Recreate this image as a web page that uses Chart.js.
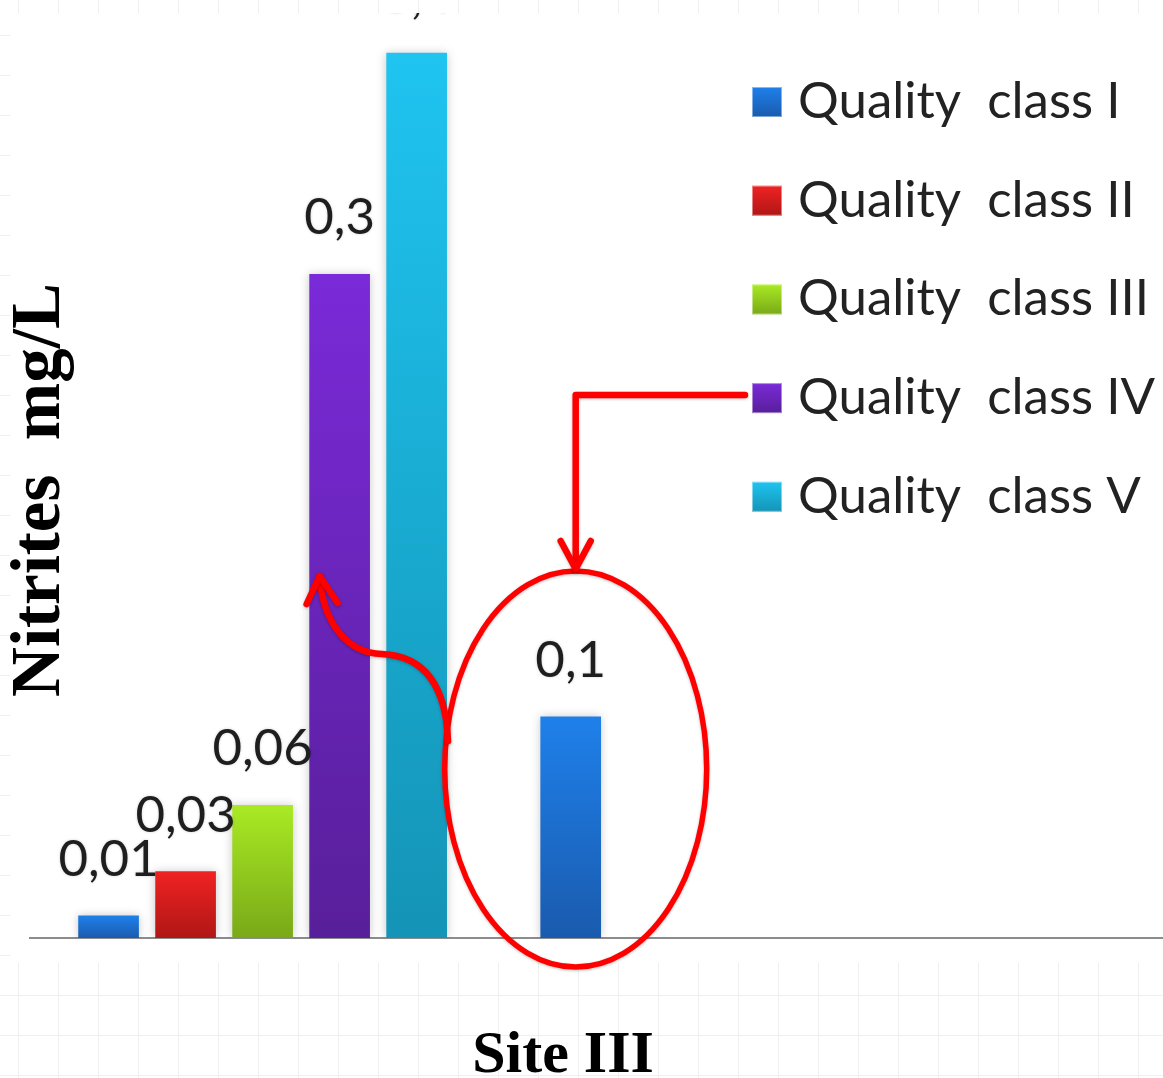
<!DOCTYPE html>
<html>
<head>
<meta charset="utf-8">
<script src="https://cdn.jsdelivr.net/npm/chart.js@4.4.1/dist/chart.umd.min.js"></script>
<style>
  html, body { margin: 0; padding: 0; background: #fff; }
  #wrap { position: relative; width: 1163px; height: 1078px; }
  canvas { display: block; }
</style>
</head>
<body>
<div id="wrap"><canvas id="chart" width="1163" height="1078"></canvas></div>
<script>
// ---- data ----
const classLabels = ['Quality  class I', 'Quality  class II', 'Quality  class III', 'Quality  class IV', 'Quality  class V'];
const classValues = [0.01, 0.03, 0.06, 0.3, 0.4];
const siteLabels = ['Site III'];
const siteValues = [0.1];
const yTitle = 'Nitrites  mg/L';

// ---- styles ----
const classColors = [
  ['#1f80ea', '#1a5bae'],
  ['#f02222', '#b01616'],
  ['#a9ea24', '#79a918'],
  ['#7a2ad8', '#581f9a'],
  ['#1fc4f0', '#1494b6']
];
const siteColors = ['#1f80ea', '#1a5bae'];
const labelFont = '51px Lato';
const legendFont = '51px Lato';
const sheet = { left: 10, top: 13, bottom: 963 };

const fmt = v => String(v).replace('.', ',');

function barFill(pair) {
  return (ctx) => {
    const chart = ctx.chart;
    if (!chart.chartArea || ctx.type !== 'data') return pair[0];
    const ys = chart.scales.y;
    const top = ys.getPixelForValue(ctx.raw.y);
    const bot = ys.getPixelForValue(0);
    const g = chart.ctx.createLinearGradient(0, top, 0, bot);
    g.addColorStop(0, pair[0]);
    g.addColorStop(1, pair[1]);
    return g;
  };
}

// one slot per bar: classes first, a gap, then the site
const siteSlot = classLabels.length + 2;
const datasets = classLabels.map((lab, i) => ({
  label: lab,
  data: [{ x: i + 1, y: classValues[i] }],
  backgroundColor: barFill(classColors[i]),
  grouped: false,
  barThickness: 60
}));
siteLabels.forEach((lab, i) => datasets.push({
  label: lab,
  data: [{ x: siteSlot + i, y: siteValues[i] }],
  backgroundColor: barFill(siteColors),
  grouped: false,
  barThickness: 60
}));

// faint paper grid behind a white plotting sheet
const paperPlugin = {
  id: 'paper',
  beforeDraw(chart) {
    const c = chart.ctx, W = chart.width, H = chart.height;
    c.save();
    c.fillStyle = '#fff';
    c.fillRect(0, 0, W, H);
    c.strokeStyle = '#efefef';
    c.lineWidth = 1;
    c.beginPath();
    for (let x = 18; x < W; x += 40) { c.moveTo(x + 0.5, 0); c.lineTo(x + 0.5, H); }
    for (let y = 35; y < H; y += 40) { c.moveTo(0, y + 0.5); c.lineTo(W, y + 0.5); }
    c.stroke();
    c.fillStyle = '#fff';
    c.fillRect(sheet.left, sheet.top, W - sheet.left, sheet.bottom - sheet.top);
    c.restore();
  }
};

// soft shadow around bars
const shadowPlugin = {
  id: 'barShadow',
  beforeDatasetsDraw(chart) {
    const c = chart.ctx;
    c.save();
    c.shadowColor = 'rgba(0,0,0,0.22)';
    c.shadowBlur = 9;
  },
  afterDatasetsDraw(chart) {
    chart.ctx.restore();
  }
};

// value labels above bars, kept inside the white sheet
const valuePlugin = {
  id: 'values',
  afterDatasetsDraw(chart) {
    const c = chart.ctx;
    c.save();
    c.beginPath();
    c.rect(sheet.left, sheet.top, chart.width - sheet.left, sheet.bottom - sheet.top);
    c.clip();
    c.font = labelFont;
    c.fillStyle = '#1e1e1e';
    c.textAlign = 'center';
    c.textBaseline = 'alphabetic';
    c.shadowColor = 'rgba(0,0,0,0.18)';
    c.shadowBlur = 3;
    chart.data.datasets.forEach((ds, di) => {
      const meta = chart.getDatasetMeta(di);
      meta.data.forEach((el, j) => {
        c.fillText(fmt(ds.data[j].y), el.x, el.y - 40);
      });
    });
    c.restore();
  }
};

// legend, axis titles and red annotations
const overlayPlugin = {
  id: 'overlay',
  afterDraw(chart) {
    const c = chart.ctx;
    const xs = chart.scales.x, ys = chart.scales.y;
    c.save();

    // legend
    const lx = 752, ly0 = 102, lstep = 98.7, box = 30;
    classLabels.forEach((lab, i) => {
      const cy = ly0 + i * lstep;
      const g = c.createLinearGradient(0, cy - box / 2, 0, cy + box / 2);
      g.addColorStop(0, classColors[i][0]);
      g.addColorStop(1, classColors[i][1]);
      c.fillStyle = g;
      c.fillRect(lx, cy - box / 2, box, box);
      c.strokeStyle = 'rgba(255,255,255,0.45)';
      c.lineWidth = 1;
      c.strokeRect(lx + 0.5, cy - box / 2 + 0.5, box - 1, box - 1);
      c.font = legendFont;
      c.fillStyle = '#222';
      c.textAlign = 'left';
      c.textBaseline = 'alphabetic';
      c.fillText(lab, 798, cy + 16);
    });

    // axis titles
    c.fillStyle = '#000';
    c.font = 'bold 60px "Liberation Serif"';
    c.textAlign = 'center';
    c.fillText(siteLabels[0], 563, 1072);
    c.save();
    c.translate(59, 490);
    c.rotate(-Math.PI / 2);
    c.font = 'bold 69px "Liberation Serif"';
    c.fillText(yTitle, 0, 0);
    c.restore();

    // red annotations, anchored to the site bar and the class IV bar
    const sx = xs.getPixelForValue(siteSlot);
    const bx = xs.getPixelForValue(4);
    const y0 = ys.getPixelForValue(0);
    const ecx = sx + 5, ecy = y0 - 169, erx = 131, ery = 198;
    c.strokeStyle = '#ff0000';
    c.lineCap = 'round';
    c.lineJoin = 'round';
    c.shadowColor = 'rgba(0,0,0,0.25)';
    c.shadowBlur = 3;
    c.shadowOffsetY = 1;

    c.lineWidth = 5.5;
    c.beginPath();
    c.ellipse(ecx, ecy, erx, ery, 0, 0, Math.PI * 2);
    c.stroke();

    // elbow arrow from legend item IV down to the ellipse
    const legY = ly0 + 3 * lstep - 3;
    const tipY = ecy - ery - 2;
    c.lineWidth = 6.5;
    c.beginPath();
    c.moveTo(lx - 7, legY);
    c.lineTo(ecx, legY);
    c.lineTo(ecx, tipY);
    c.stroke();
    c.beginPath();
    c.moveTo(ecx - 15, tipY - 28);
    c.lineTo(ecx, tipY);
    c.lineTo(ecx + 15, tipY - 28);
    c.stroke();

    // curved arrow from the ellipse to the class IV bar
    const sy = ecy - 28;
    const sxE = ecx - erx * Math.sqrt(1 - Math.pow((sy - ecy) / ery, 2)) + 2;
    const tx = bx - 20, ty = y0 - 362;
    c.beginPath();
    c.moveTo(sxE, sy);
    c.bezierCurveTo(sxE - 2, sy - 55, sxE - 23, sy - 85, sxE - 66, sy - 87);
    c.bezierCurveTo(tx + 26, sy - 88, tx + 3, sy - 120, tx, ty);
    c.stroke();
    c.beginPath();
    c.moveTo(tx - 13, ty + 28);
    c.lineTo(tx, ty);
    c.lineTo(tx + 18, ty + 27);
    c.stroke();

    c.restore();
  }
};

new Chart(document.getElementById('chart'), {
  type: 'bar',
  data: { datasets },
  options: {
    responsive: false,
    animation: false,
    devicePixelRatio: 1,
    layout: { padding: { left: 30, right: 0, top: 0, bottom: 132 } },
    plugins: { legend: { display: false }, tooltip: { enabled: false } },
    scales: {
      x: {
        type: 'linear',
        offset: false,
        min: -0.02,
        max: 14.69,
        ticks: { display: false },
        grid: { display: false },
        border: { display: true, color: '#8c8c8c', width: 2 }
      },
      y: {
        min: 0,
        max: 0.424,
        display: false
      }
    }
  },
  plugins: [paperPlugin, shadowPlugin, valuePlugin, overlayPlugin]
});
</script>
</body>
</html>
